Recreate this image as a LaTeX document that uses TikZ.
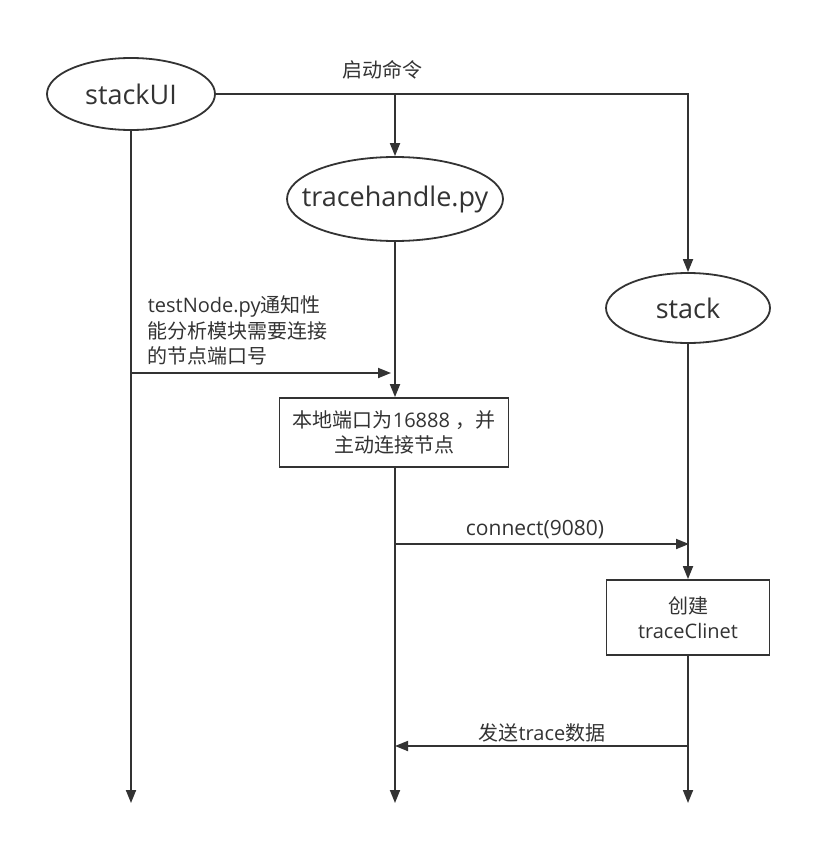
\documentclass[tikz,border=0pt]{standalone}
\usepackage{fontspec}
\setmainfont{Open Sans}
\newfontfamily\cjkf{Noto Sans CJK SC}
\newcommand{\cj}[1]{{\cjkf #1}}
\usetikzlibrary{arrows.meta,shapes.geometric}
\definecolor{ink}{HTML}{333333}
\begin{document}
\begin{tikzpicture}[x=1pt,y=-1pt,
  line width=1.8pt, draw=ink,
  ell/.style={ellipse, draw=ink, fill=white, inner sep=0pt, font=\fontsize{27}{32}\selectfont, text=ink},
  boxnode/.style={rectangle, draw=ink, fill=white, inner sep=0pt, align=center, font=\fontsize{20}{25}\selectfont, text=ink},
  lbl/.style={font=\fontsize{20}{25.5}\selectfont, text=ink, inner sep=0pt},
  arr/.style={draw=ink, -{Triangle[length=13pt,width=10pt]}}]
\useasboundingbox (0,0) rectangle (832,864);
\fill[white] (0,0) rectangle (832,864);
% nodes
\node[ell, minimum width=168pt, minimum height=72pt] (ui) at (131,94) {\makebox[0pt]{stackUI}};
\node[ell, minimum width=216pt, minimum height=84pt] (th) at (395,199) {\makebox[0pt]{tracehandle.py}};
\node[ell, minimum width=164pt, minimum height=70pt] (st) at (688,308) {\makebox[0pt]{stack}};
\node[boxnode, minimum width=229pt, minimum height=69pt] (b1) at (394,432.5) {\makebox[0pt]{\cj{本地端口为}16888 \cj{，并}}\\\cj{主动连接节点}};
\node[boxnode, minimum width=163pt, minimum height=75pt] (b2) at (688,617.5) {\cj{创建}\\traceClinet};
% labels
\node[lbl] (l1) at (382,70) {\cj{启动命令}};
\node[lbl, anchor=north west, align=left] (l2) at (147,295) {testNode.py\cj{通知性}\\\cj{能分析模块需要连接}\\\cj{的节点端口号}};
\node[lbl, font=\fontsize{21}{25}\selectfont] (l3) at (535,530) {connect(9080)};
\node[lbl] (l4) at (542,733) {\cj{发送}trace\cj{数据}};
% coordinates
\coordinate (j1) at (395,94);
\coordinate (uiend) at (131,803);
\coordinate (n1) at (131,373);
\coordinate (n1e) at (391,373);
\coordinate (thend) at (395,803);
\coordinate (c1) at (395,544);
\coordinate (c2) at (689,544);
\coordinate (stend) at (688,803);
\coordinate (s1) at (688,746);
\coordinate (s2) at (395,746);
% connectors
\draw[arr] (ui.east) -| (st.north);
\draw[arr] (j1) -- (th.north);
\draw[arr] (ui.south) -- (uiend);
\draw[arr] (n1) -- (n1e);
\draw[arr] (th.south) -- (b1.north -| th.south);
\draw[arr] (b1.south -| th.south) -- (thend);
\draw[arr] (c1) -- (c2);
\draw[arr] (st.south) -- (b2.north);
\draw[arr] (b2.south) -- (stend);
\draw[arr] (s1) -- (s2);
\end{tikzpicture}
\end{document}
